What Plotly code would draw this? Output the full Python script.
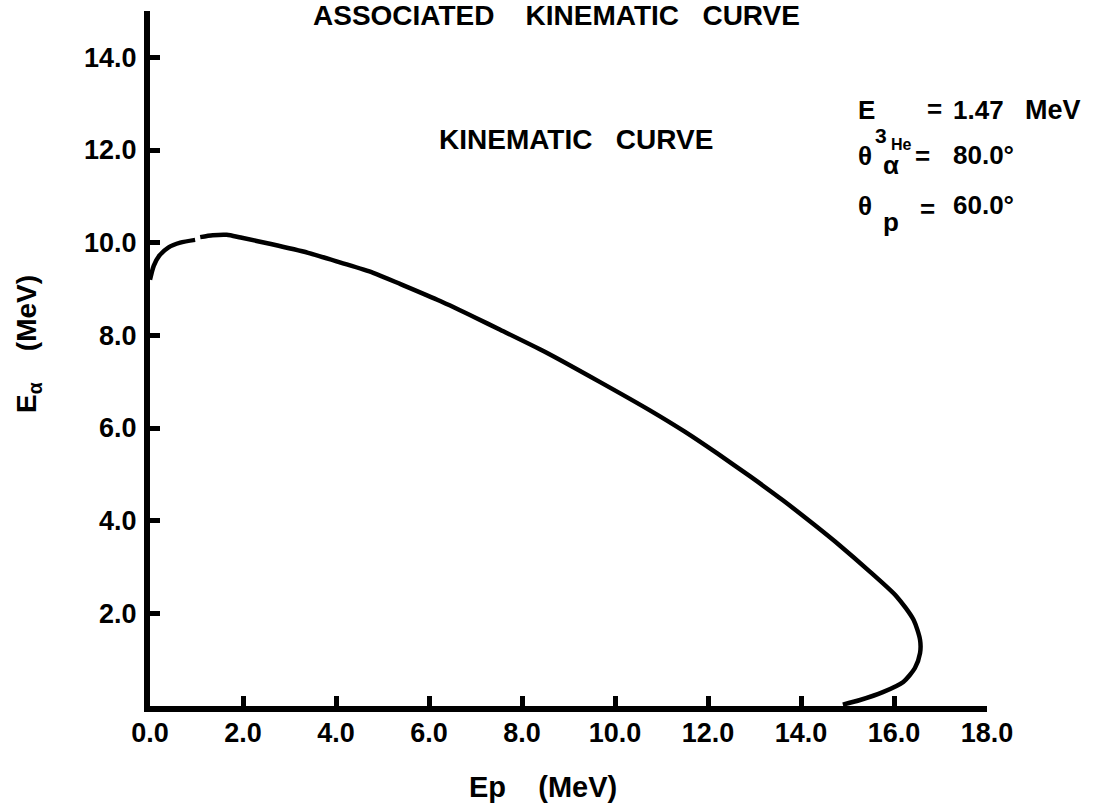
import plotly.graph_objects as go

# ---- data ----
ep_mev = [0.0, 0.08, 0.2, 0.4, 0.65, 0.97, None,
          1.08, 1.35, 1.65, 1.95, 2.6, 3.4, 4.1, 4.8, 5.4, 6.24, 7.0, 7.53,
          8.5, 9.68, 10.75, 11.5, 12.2, 12.9, 13.61, 14.3, 14.84, 15.48,
          16.06, 16.42, 16.56, 16.56, 16.45, 16.2, 15.76, 15.27, 14.9]
ealpha_mev = [9.2, 9.5, 9.72, 9.9, 10.0, 10.06, None,
              10.12, 10.16, 10.17, 10.11, 9.97, 9.78, 9.57, 9.35, 9.1, 8.74, 8.38, 8.12,
              7.64, 6.99, 6.38, 5.92, 5.45, 4.96, 4.44, 3.9, 3.46, 2.9,
              2.36, 1.86, 1.43, 1.14, 0.82, 0.52, 0.3, 0.13, 0.03]

x_tick_vals = [0, 2, 4, 6, 8, 10, 12, 14, 16, 18]
x_tick_text = ["0.0", "2.0", "4.0", "6.0", "8.0", "10.0", "12.0", "14.0", "16.0", "18.0"]
y_tick_vals = [2, 4, 6, 8, 10, 12, 14]
y_tick_text = ["2.0", "4.0", "6.0", "8.0", "10.0", "12.0", "14.0"]

# ---- layout geometry ----
W, H = 1108, 808
L, R, T, B = 150, 121, 11, 102
PW, PH = W - L - R, H - T - B
FONT = "Liberation Sans"


def pxx(xp):
    return (xp - L) / PW


def pxy(yp):
    return (H - B - yp) / PH


fig = go.Figure()
fig.add_trace(go.Scatter(x=ep_mev, y=ealpha_mev, mode="lines",
                         line=dict(color="black", width=4.5, shape="spline", smoothing=0.7),
                         connectgaps=False, hoverinfo="skip"))

axis_common = dict(showgrid=False, zeroline=False, showline=True, linecolor="black",
                   linewidth=6, ticks="inside", ticklen=10, tickwidth=5, tickcolor="black",
                   tickfont=dict(family=FONT, size=27, color="black", weight="bold"))

fig.update_xaxes(range=[0, 18], tickmode="array", tickvals=x_tick_vals,
                 ticktext=x_tick_text, ticklabelstandoff=-2, **axis_common)
fig.update_yaxes(range=[0, 15], tickmode="array", tickvals=y_tick_vals,
                 ticktext=y_tick_text, ticklabelstandoff=2, **axis_common)


def ann(text, xp, yp, size, xanchor="left", yanchor="middle", angle=0):
    fig.add_annotation(text=text, xref="paper", yref="paper", x=pxx(xp), y=pxy(yp),
                       xanchor=xanchor, yanchor=yanchor, showarrow=False, textangle=angle,
                       font=dict(family=FONT, size=size, color="black", weight="bold"))


NB = "\u00a0"
ann("ASSOCIATED" + NB * 4 + "KINEMATIC" + NB * 3 + "CURVE", 556, 15, 28, xanchor="center")
ann("KINEMATIC" + NB * 3 + "CURVE", 576, 139, 28, xanchor="center")
ann("Ep" + NB * 4 + "(MeV)", 543, 787, 29, xanchor="center")
ann("E<sub>α</sub>" + NB * 4 + "(MeV)", 28, 344, 28, xanchor="center", angle=-90)

# parameter block
ann("E", 856, 110, 26)
ann("3", 873, 135, 21)
ann("He", 889, 144, 16)
ann("=", 925, 109, 26)
ann("1.47", 951, 110, 26)
ann("MeV", 1023, 110, 27)

ann("θ", 856, 156, 26)
ann("α", 881, 165, 26)
ann("=", 913, 156, 26)
ann("80.0°", 951, 155, 26)

ann("θ", 856, 206, 26)
ann("p", 881, 222, 26)
ann("=", 918, 209, 26)
ann("60.0°", 951, 205, 26)

fig.update_layout(width=W, height=H, margin=dict(l=L, r=R, t=T, b=B),
                  plot_bgcolor="white", paper_bgcolor="white", showlegend=False)

fig.write_html("out.html")
